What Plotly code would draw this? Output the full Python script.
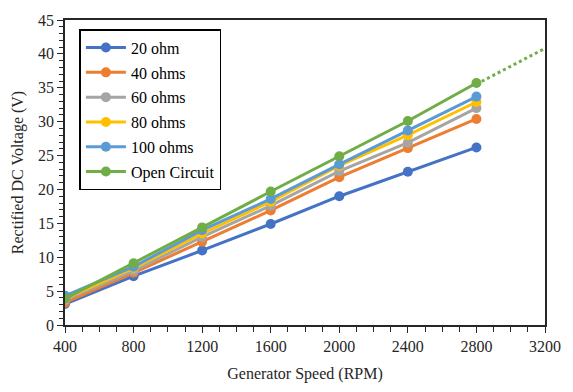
import numpy as np
import plotly.graph_objects as go

# Generator speed (RPM) and rectified DC voltage (V) per load
speed = [400, 800, 1200, 1600, 2000, 2400, 2800]
v_20 = [3.1, 7.2, 11.0, 14.9, 19.0, 22.6, 26.2]
v_40 = [3.3, 7.7, 12.3, 16.9, 21.8, 26.1, 30.4]
v_60 = [3.7, 8.0, 13.0, 17.6, 22.7, 26.9, 32.0]
v_80 = [3.9, 8.4, 13.5, 18.2, 23.5, 28.0, 32.9]
v_100 = [4.3, 8.6, 14.0, 18.6, 23.7, 28.7, 33.7]
v_open = [3.9, 9.1, 14.4, 19.7, 24.9, 30.1, 35.7]

series_names = ["20 ohm", "40 ohms", "60 ohms", "80 ohms", "100 ohms", "Open Circuit"]
series_values = [v_20, v_40, v_60, v_80, v_100, v_open]
colors = ["#4472C4", "#ED7D31", "#A5A5A5", "#FFC000", "#5B9BD5", "#70AD47"]

# Open-circuit linear trend, forecast forward to 3200 RPM
forecast_speed = [2800, 3200]

FONT = "Liberation Serif, Times New Roman, serif"

fig = go.Figure()

for i, (name, vals, col) in enumerate(zip(series_names, series_values, colors)):
    fig.add_trace(go.Scatter(
        x=speed, y=vals, name=name, mode="lines+markers",
        line=dict(color=col, width=3),
        marker=dict(color=col, size=10),
        legendgroup=f"g{i}",
    ))

slope, intercept = np.polyfit(speed, v_open, 1)
fig.add_trace(go.Scatter(
    x=forecast_speed,
    y=[slope * s + intercept for s in forecast_speed],
    mode="lines", showlegend=False, hoverinfo="skip",
    line=dict(color=colors[-1], width=3, dash="dot"),
))

axis_common = dict(
    showgrid=False, zeroline=False,
    showline=True, linecolor="#262626", linewidth=1.5, mirror=True,
    ticks="outside", ticklen=6, tickwidth=1.2, tickcolor="#262626",
    tickfont=dict(family=FONT, size=16, color="#262626"),
)

fig.update_xaxes(
    range=[400, 3200], tick0=400, dtick=400,
    minor=dict(ticks="outside", dtick=100, ticklen=5, tickwidth=1.2, tickcolor="#262626"),
    title=dict(text="Generator Speed (RPM)", font=dict(family=FONT, size=16, color="#262626"), standoff=14),
    **axis_common,
)
fig.update_yaxes(
    range=[0, 45], tick0=0, dtick=5,
    minor=dict(ticks="outside", dtick=1, ticklen=4, tickwidth=1.2, tickcolor="#262626"),
    title=dict(text="Rectified DC Voltage (V)", font=dict(family=FONT, size=16, color="#262626"), standoff=10),
    **axis_common,
)

fig.update_layout(
    width=573, height=392,
    margin=dict(l=65, r=20, t=17, b=59),
    plot_bgcolor="white", paper_bgcolor="white",
    font=dict(family=FONT, size=16, color="#262626"),
    legend=dict(
        x=0.03, y=0.97, xanchor="left", yanchor="top",
        bordercolor="#000000", borderwidth=1.5, bgcolor="white",
        font=dict(family=FONT, size=16, color="#000000"),
        tracegroupgap=1, itemwidth=40,
    ),
    showlegend=True,
)

fig.write_html("out.html")
